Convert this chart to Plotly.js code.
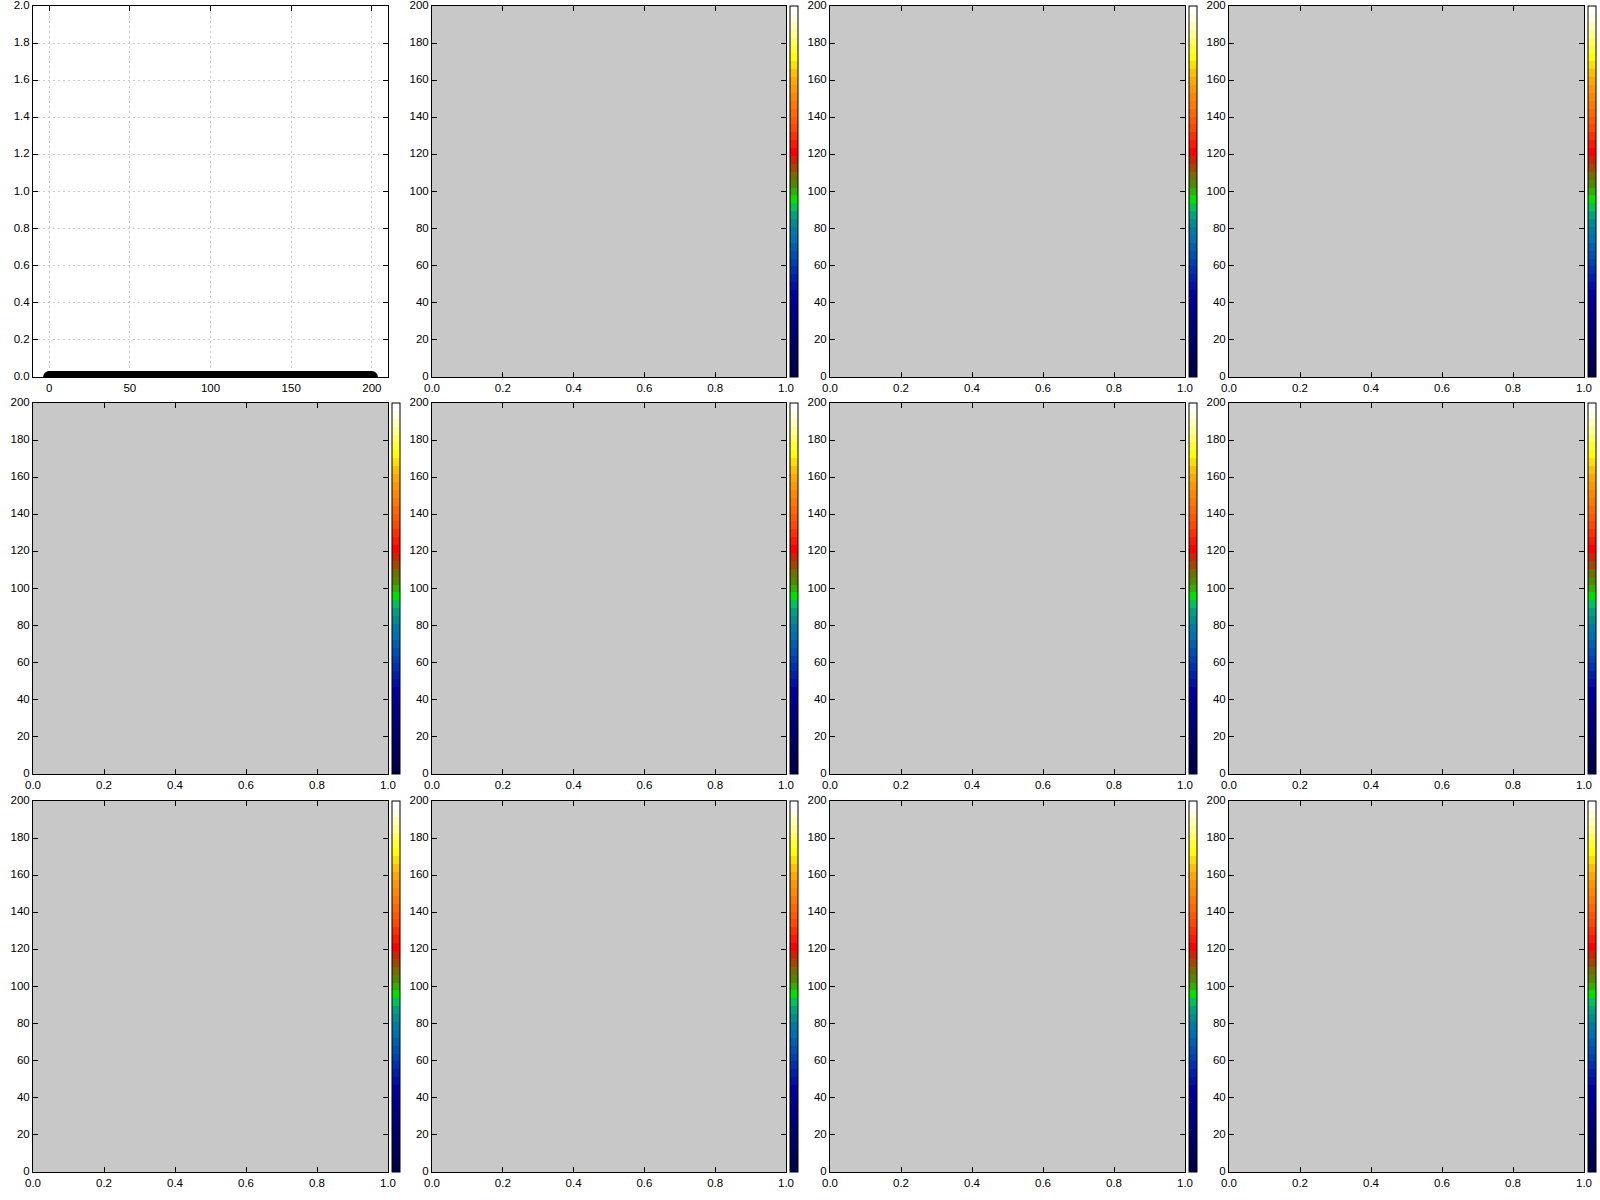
<!DOCTYPE html>
<html>
<head>
<meta charset="utf-8">
<script src="https://cdn.plot.ly/plotly-3.0.1.min.js"></script>
<style>html,body{margin:0;padding:0;background:#fff;}#chart{width:1600px;height:1200px;}</style>
</head>
<body>
<div id="chart"></div>
<script>
// ---- Panel 1: line series (sample index vs value) ----
const sampleIndex = [0,1,2,3,4,5,6,7,8,9,10,11,12,13,14,15,16,17,18,19,20,21,22,23,24,25,26,27,28,29,30,31,32,33,34,35,36,37,38,39,40,41,42,43,44,45,46,47,48,49,50,51,52,53,54,55,56,57,58,59,60,61,62,63,64,65,66,67,68,69,70,71,72,73,74,75,76,77,78,79,80,81,82,83,84,85,86,87,88,89,90,91,92,93,94,95,96,97,98,99,100,101,102,103,104,105,106,107,108,109,110,111,112,113,114,115,116,117,118,119,120,121,122,123,124,125,126,127,128,129,130,131,132,133,134,135,136,137,138,139,140,141,142,143,144,145,146,147,148,149,150,151,152,153,154,155,156,157,158,159,160,161,162,163,164,165,166,167,168,169,170,171,172,173,174,175,176,177,178,179,180,181,182,183,184,185,186,187,188,189,190,191,192,193,194,195,196,197,198,199,200];
const sampleValues = [0,0,0,0,0,0,0,0,0,0,0,0,0,0,0,0,0,0,0,0,0,0,0,0,0,0,0,0,0,0,0,0,0,0,0,0,0,0,0,0,0,0,0,0,0,0,0,0,0,0,0,0,0,0,0,0,0,0,0,0,0,0,0,0,0,0,0,0,0,0,0,0,0,0,0,0,0,0,0,0,0,0,0,0,0,0,0,0,0,0,0,0,0,0,0,0,0,0,0,0,0,0,0,0,0,0,0,0,0,0,0,0,0,0,0,0,0,0,0,0,0,0,0,0,0,0,0,0,0,0,0,0,0,0,0,0,0,0,0,0,0,0,0,0,0,0,0,0,0,0,0,0,0,0,0,0,0,0,0,0,0,0,0,0,0,0,0,0,0,0,0,0,0,0,0,0,0,0,0,0,0,0,0,0,0,0,0,0,0,0,0,0,0,0,0,0,0,0,0,0,0];
const lineXRange = [-10, 210];
const lineYRange = [0, 2];
const lineXTicks = [0, 50, 100, 150, 200];
const lineYTicks = [0, 0.2, 0.4, 0.6, 0.8, 1.0, 1.2, 1.4, 1.6, 1.8, 2.0];

// ---- Panels 2-12: empty (all missing) fields with a 0..200 colour scale ----
const fieldXRange = [0, 1];
const fieldYRange = [0, 200];
const fieldX = [null];
const fieldY = [null];
const fieldValues = [null];
const fieldZRange = [0, 200];
const fieldXTicks = [0, 0.2, 0.4, 0.6, 0.8, 1.0];
const fieldYTicks = [0, 20, 40, 60, 80, 100, 120, 140, 160, 180, 200];
const colorLevels = [
  '#000048','#000050','#000058','#000060','#000068','#000070','#000078','#000080',
  '#000088','#000094','#0000a0','#0010a8','#0020a8','#0030b0','#0040b0','#0050b0',
  '#0060b0','#0070b0','#0078a8','#008c90','#00a080','#00c060','#00e000','#30b000',
  '#508800','#707000','#a04800','#c82800','#ff0000','#ff1800','#ff3000','#ff4800',
  '#ff5800','#ff6800','#ff7800','#ff8800','#ff9800','#ffa800','#ffc000','#ffe000',
  '#ffff00','#ffff30','#ffff60','#ffff90','#ffffb8','#ffffe0','#ffffff'
];

// ---- layout geometry (pixels) ----
const W = 1600, H = 1200;
const colPx = [[33, 388], [432, 786], [830, 1185], [1229, 1584]];
const rowPx = [[6, 377], [403, 774], [801, 1172]];
const panelBg = '#c8c8c8';

// discrete colour scale built from the levels
const colorscale = [];
const n = colorLevels.length;
colorLevels.forEach((c, k) => {
  colorscale.push([k / n, c]);
  colorscale.push([(k + 1) / n, c]);
});

const font = {family: '"Liberation Sans", Arial, sans-serif', size: 11.5, color: '#000'};
const traces = [];
const layout = {
  width: W, height: H,
  margin: {l: 0, r: 0, t: 0, b: 0},
  paper_bgcolor: '#fff', plot_bgcolor: '#fff',
  showlegend: false,
  font: font,
  shapes: []
};

function axisBase() {
  return {
    showline: true, linecolor: '#000', linewidth: 1, mirror: 'ticks',
    ticks: 'inside', ticklen: 5, tickcolor: '#000', tickwidth: 1,
    zeroline: false, tickfont: font, fixedrange: true,
    ticklabeloverflow: 'allow'
  };
}

for (let i = 1; i <= 12; i++) {
  const r = Math.floor((i - 1) / 4), c = (i - 1) % 4;
  const xs = i === 1 ? '' : String(i);
  const xd = [colPx[c][0] / W, colPx[c][1] / W];
  const yd = [1 - rowPx[r][1] / H, 1 - rowPx[r][0] / H];
  const xa = axisBase(), ya = axisBase();
  xa.domain = xd; xa.anchor = 'y' + xs;
  ya.domain = yd; ya.anchor = 'x' + xs;
  ya.ticklabelshift = -1;
  if (i === 1) {
    Object.assign(xa, {range: lineXRange, tickmode: 'array', tickvals: lineXTicks,
      showgrid: true, gridcolor: '#cccccc', gridwidth: 1, griddash: '2px,3px'});
    Object.assign(ya, {range: lineYRange, tickmode: 'array', tickvals: lineYTicks, tickformat: '.1f',
      showgrid: true, gridcolor: '#cccccc', gridwidth: 1, griddash: '2px,3px'});
    traces.push({
      type: 'scatter', mode: 'markers', x: sampleIndex, y: sampleValues,
      xaxis: 'x', yaxis: 'y',
      marker: {color: '#000', size: 12, line: {width: 0}},
      hoverinfo: 'skip'
    });
  } else {
    Object.assign(xa, {range: fieldXRange, tickmode: 'array', tickvals: fieldXTicks, tickformat: '.1f', showgrid: false});
    Object.assign(ya, {range: fieldYRange, tickmode: 'array', tickvals: fieldYTicks, showgrid: false});
    layout.shapes.push({
      type: 'rect', xref: 'x' + xs + ' domain', yref: 'y' + xs + ' domain',
      x0: 0, x1: 1, y0: 0, y1: 1, fillcolor: panelBg, line: {width: 0}, layer: 'below'
    });
    traces.push({
      type: 'scatter', mode: 'markers', x: fieldX, y: fieldY,
      xaxis: 'x' + xs, yaxis: 'y' + xs,
      marker: {
        color: fieldValues, cmin: fieldZRange[0], cmax: fieldZRange[1], cauto: false,
        colorscale: colorscale, showscale: true,
        colorbar: {
          x: (colPx[c][1] + 4) / W, xanchor: 'left', xref: 'paper',
          y: 1 - (rowPx[r][0] + rowPx[r][1]) / 2 / H, yanchor: 'middle', yref: 'paper',
          len: (rowPx[r][1] - rowPx[r][0]) / H, lenmode: 'fraction',
          thickness: 8, thicknessmode: 'pixels', xpad: 0, ypad: 0,
          outlinewidth: 1, outlinecolor: '#000', borderwidth: 0,
          showticklabels: false, ticks: ''
        }
      },
      hoverinfo: 'skip'
    });
  }
  layout['xaxis' + xs] = xa;
  layout['yaxis' + xs] = ya;
}

Plotly.newPlot('chart', traces, layout, {displayModeBar: false, staticPlot: true});
</script>
</body>
</html>
